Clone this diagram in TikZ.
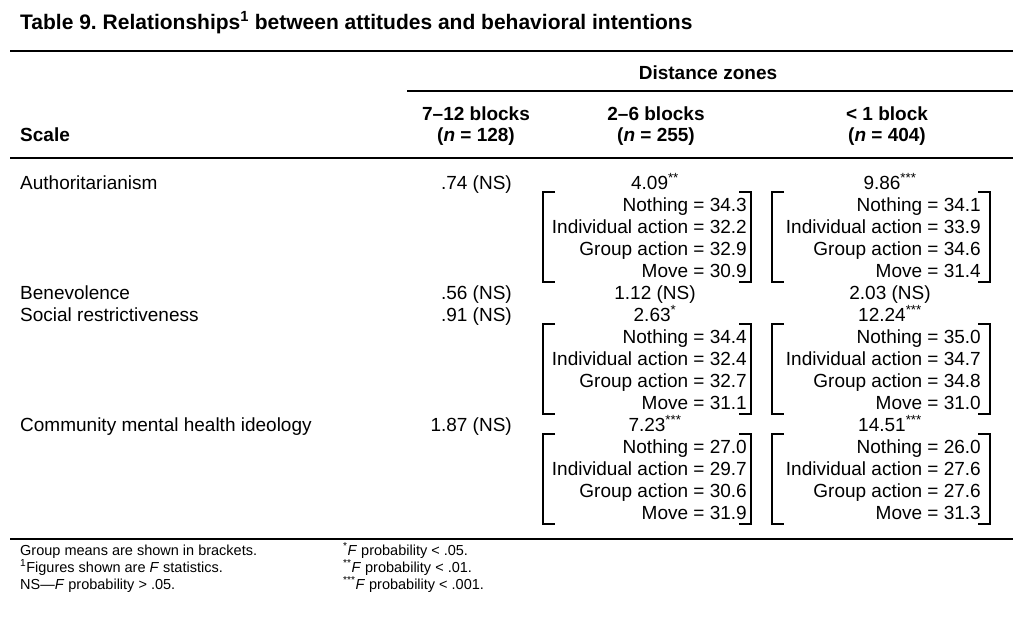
\documentclass[tikz,border=0pt]{standalone}
\usepackage{fontspec}
\usepackage{graphicx}
\setmainfont{Liberation Sans}
\frenchspacing
\newcommand\cellfont{\fontsize{19}{22}\selectfont}
\newcommand\notefont{\fontsize{14.5}{17}\selectfont}

\begin{document}
\begin{tikzpicture}[x=1pt,y=-1pt,
  txt/.style={inner sep=0pt,font=\cellfont},
  head/.style={inner sep=0pt,font=\cellfont\bfseries,anchor=base},
  note/.style={inner sep=0pt,font=\notefont,anchor=base west},
  rule/.style={line width=1.5pt},
  bracket/.style={line width=2.2pt}]

\useasboundingbox (0,0) rectangle (1024,616);

% title and rules
\node[inner sep=0pt,anchor=base west,font=\fontsize{21}{24}\selectfont\bfseries] (title) at (20,29)
  {Table 9. Relationships\textsuperscript{1} between attitudes and behavioral intentions};
\draw[rule] (10,51) -- (1013,51);
\draw[rule] (407,91) -- (1013,91);
\draw[rule] (10,158) -- (1013,158);
\draw[rule] (10,539) -- (1013,539);

% column heads
\node[head] (zones) at (708,79) {Distance zones};
\node[head,anchor=base west] (scale) at (20,141) {Scale};
\foreach \x/\top/\n [count=\c] in {476/7--12 blocks/128, 656/2--6 blocks/255, 887/< 1 block/404}{
  \node[head] (h\c) at (\x,120) {\top};
  \node[head] (n\c) at (\x,141) {(\textit{n} = \n)};
}

% scales and F statistics
\foreach \k/\name/\fa/\fb/\fc in {
  0/Authoritarianism/.74 (NS)/4.09\textsuperscript{**}/9.86\textsuperscript{***},
  5/Benevolence/.56 (NS)/1.12 (NS)/2.03 (NS),
  6/Social restrictiveness/.91 (NS)/2.63\textsuperscript{*}/12.24\textsuperscript{***},
  11/Community mental health ideology/1.87 (NS)/7.23\textsuperscript{***}/14.51\textsuperscript{***}}{
  \node[txt,anchor=base west] (s\k) at (20,{189+22*\k}) {\name};
  \node[txt,anchor=base east] (a\k) at (512,{189+22*\k}) {\fa};
  \node[txt,anchor=base] (b\k) at (655,{189+22*\k}) {\fb};
  \node[txt,anchor=base] (c\k) at (890,{189+22*\k}) {\fc};
}

% group means in brackets
\foreach \k/\xr/\xl/\xb/\va/\vb/\vc/\vd in {
  1/747/543/751/34.3/32.2/32.9/30.9, 1/981/772/990/34.1/33.9/34.6/31.4,
  7/747/543/751/34.4/32.4/32.7/31.1, 7/981/772/990/35.0/34.7/34.8/31.0,
  12/747/543/751/27.0/29.7/30.6/31.9, 12/981/772/990/26.0/27.6/27.6/31.3}{
  \foreach \lab/\val [count=\i from 0] in {Nothing/\va, Individual action/\vb, Group action/\vc, Move/\vd}
    \node[txt,anchor=base east] (m\k-\xr-\i) at (\xr,{189+22*(\k+\i)}) {\lab\ = \val};
  \draw[bracket] (\xl+12,{170+22*\k}) -- (\xl,{170+22*\k}) -- (\xl,{260+22*\k}) -- (\xl+12,{260+22*\k});
  \draw[bracket] (\xb-12,{170+22*\k}) -- (\xb,{170+22*\k}) -- (\xb,{260+22*\k}) -- (\xb-12,{260+22*\k});
}

% notes
\node[note] (g1) at (20,555) {Group means are shown in brackets.};
\node[note] (g2) at (20,572) {\textsuperscript{1}Figures shown are \textit{F} statistics.};
\node[note] (g3) at (20,589) {NS---\textit{F} probability > .05.};
\node[note] (p1) at (343,555) {\textsuperscript{*}\textit{F} probability < .05.};
\node[note] (p2) at (343,572) {\textsuperscript{**}\textit{F} probability < .01.};
\node[note] (p3) at (343,589) {\textsuperscript{***}\textit{F} probability < .001.};
\end{tikzpicture}
\end{document}
